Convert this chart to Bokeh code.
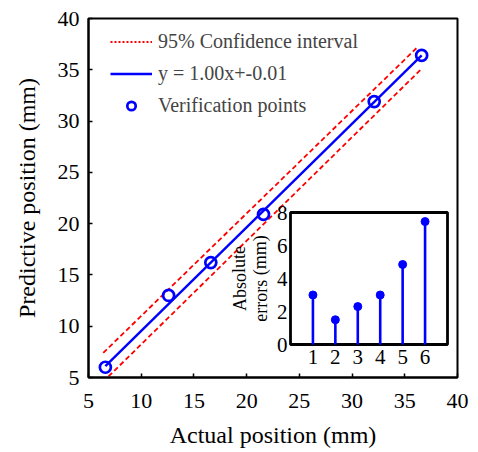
from bokeh.plotting import figure
from bokeh.models import Range1d, Legend, LegendItem
from bokeh.core.properties import value
from bokeh.embed import file_html
from bokeh.resources import INLINE

# ---------------- data ----------------
actual = [6.6, 12.6, 16.6, 21.6, 32.1, 36.6]
predicted = [6.0, 13.0, 16.2, 20.9, 31.9, 36.4]

fit_x = [6.6, 36.6]
fit_y = [6.1, 36.4]
ci_upper_x = [6.4, 36.1]
ci_upper_y = [7.4, 37.1]
ci_lower_x = [6.9, 36.6]
ci_lower_y = [5.1, 35.1]

err_idx = [1, 2, 3, 4, 5, 6]
abs_err = [3.0, 1.5, 2.3, 3.0, 4.85, 7.45]

main_ticks = [5, 10, 15, 20, 25, 30, 35, 40]
inset_yticks = [0, 2, 4, 6, 8]
inset_xticks = [1, 2, 3, 4, 5, 6]
inset_xlim = (0, 7)
inset_ylim = (0, 8)

legend_labels = ["95% Confidence interval", "y = 1.00x+-0.01", "Verification points"]

FONT = "Liberation Serif"
BLUE = "#0000FF"
RED = "#FF0000"

# ---------------- layout (pixels) ----------------
FW, FH = 369, 359
p = figure(frame_width=FW, frame_height=FH, x_range=Range1d(5, 40), y_range=Range1d(5, 40),
           output_backend="svg", toolbar_location=None,
           min_border_left=88, min_border_top=18, min_border_right=12, min_border_bottom=72)
p.grid.visible = False
p.outline_line_color = "black"
p.outline_line_width = 2
p.background_fill_color = "white"

for ax in (p.xaxis[0], p.yaxis[0]):
    ax.ticker = main_ticks
    ax.axis_line_width = 2
    ax.major_tick_in = 4
    ax.major_tick_out = 0
    ax.major_tick_line_width = 1.5
    ax.minor_tick_line_color = None
    ax.major_label_text_font = FONT
    ax.major_label_text_font_size = "22px"
    ax.major_label_text_color = "black"
    ax.axis_label_text_font = FONT
    ax.axis_label_text_font_size = "24px"
    ax.axis_label_text_font_style = "normal"
    ax.axis_label_text_color = "black"

p.xaxis.axis_label = "Actual position (mm)"
p.yaxis.axis_label = "Predictive position (mm)"
p.xaxis.major_label_standoff = 16
p.yaxis.major_label_standoff = 9
p.xaxis.axis_label_standoff = 11
p.yaxis.axis_label_standoff = 15

# main glyphs
r_up = p.line(ci_upper_x, ci_upper_y, line_color=RED, line_width=1.8, line_dash="5 3")
r_lo = p.line(ci_lower_x, ci_lower_y, line_color=RED, line_width=1.8, line_dash="5 3")
r_fit = p.line(fit_x, fit_y, line_color=BLUE, line_width=2.4)
r_pts = p.scatter(actual, predicted, marker="circle", size=11, fill_color=None,
                  line_color=BLUE, line_width=2.7)
# legend-only dotted sample
r_ci_leg = p.line([float("nan")], [float("nan")], line_color=RED, line_width=2, line_dash="2 2")

legend = Legend(items=[LegendItem(label=legend_labels[0], renderers=[r_ci_leg]),
                       LegendItem(label=legend_labels[1], renderers=[r_fit]),
                       LegendItem(label=legend_labels[2], renderers=[r_pts])],
                location=(22, 260), border_line_color=None, background_fill_alpha=0,
                padding=0, margin=0, spacing=9, glyph_width=42, glyph_height=21,
                label_height=21, label_standoff=6,
                label_text_font=FONT, label_text_font_size="20px")
p.add_layout(legend)

# ---------------- inset via extra ranges ----------------
IN_L, IN_R = 202, 359     # px from frame left
IN_B, IN_T = 33, 165      # px from frame bottom
xppu = (IN_R - IN_L) / (inset_xlim[1] - inset_xlim[0])
yppu = (IN_T - IN_B) / (inset_ylim[1] - inset_ylim[0])
xs = inset_xlim[0] - IN_L / xppu
ys = inset_ylim[0] - IN_B / yppu
p.extra_x_ranges = {"ix": Range1d(xs, xs + FW / xppu)}
p.extra_y_ranges = {"iy": Range1d(ys, ys + FH / yppu)}
kw = dict(x_range_name="ix", y_range_name="iy")

p.quad(left=[inset_xlim[0]], right=[inset_xlim[1]], bottom=[inset_ylim[0]], top=[inset_ylim[1]],
       fill_color="white", line_color="black", line_width=2.8, **kw)
p.segment(x0=err_idx, y0=[0] * len(err_idx), x1=err_idx, y1=abs_err,
          line_color=BLUE, line_width=2.6, **kw)
p.scatter(err_idx, abs_err, marker="circle", size=8, fill_color=BLUE, line_color=BLUE, **kw)

p.text(x=[inset_xlim[0]] * len(inset_yticks), y=inset_yticks, text=[str(t) for t in inset_yticks],
       text_font=value(FONT), text_font_size="21px", text_align="right", text_baseline="middle",
       x_offset=-3, **kw)
p.text(x=inset_xticks, y=[inset_ylim[0]] * len(inset_xticks), text=[str(t) for t in inset_xticks],
       text_font=value(FONT), text_font_size="21px", text_align="center", text_baseline="top",
       y_offset=5, **kw)
mid_y = (inset_ylim[0] + inset_ylim[1]) / 2
p.text(x=[inset_xlim[0], inset_xlim[0]], y=[mid_y, mid_y], text=["Absolute", "errors (mm)"],
       text_font=value(FONT), text_font_size="18px", text_align="center", text_baseline="middle",
       angle=1.5708, x_offset=[-51, -30], **kw)

open("out.html", "w").write(file_html(p, INLINE))
